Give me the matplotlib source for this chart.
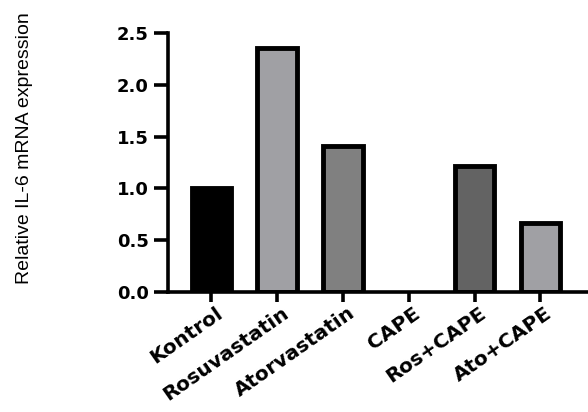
import numpy as np
import matplotlib.pyplot as plt
import matplotlib.transforms as mtransforms

# --- data ---
groups = ["Kontrol", "Rosuvastatin", "Atorvastatin", "CAPE", "Ros+CAPE", "Ato+CAPE"]
il6_expr = [1.0, 2.36, 1.41, 0.0, 1.22, 0.665]
bar_colors = ["#000000", "#a0a0a4", "#808080", "#808080", "#636363", "#a0a0a4"]
y_ticks = [0.0, 0.5, 1.0, 1.5, 2.0, 2.5]

fig = plt.figure(figsize=(5.88, 4.12), dpi=100)
ax = fig.add_axes([168 / 588, 1 - 292 / 412, 419 / 588, 259 / 412])

x = np.arange(len(groups))
# no outline on an empty bar (CAPE), otherwise it shows as a stroke on the axis
edge_w = [3.5 if v > 0 else 0 for v in il6_expr]
ax.bar(x, il6_expr, width=0.6, color=bar_colors, edgecolor="black", linewidth=edge_w, zorder=2)

ax.set_xlim(-0.66, 5.71)
ax.set_ylim(0, 2.5)

for side in ["top", "right"]:
    ax.spines[side].set_visible(False)
for side in ["left", "bottom"]:
    ax.spines[side].set_linewidth(2.6)
    ax.spines[side].set_zorder(3)

ax.set_yticks(y_ticks)
ax.set_yticklabels([f"{v:.1f}" for v in y_ticks], fontsize=13, fontweight="bold",
                   family="DejaVu Sans")
ax.tick_params(axis="y", length=10, width=2.6, pad=4)
ax.tick_params(axis="x", length=7, width=2.6, pad=3)

ax.set_xticks(x)
ax.set_xticklabels(groups, rotation=35, ha="right", va="center", rotation_mode="anchor",
                   fontsize=14.5, fontweight="bold", family="DejaVu Sans")
offset = mtransforms.ScaledTranslation(7 / 72, -4 / 72, fig.dpi_scale_trans)
for lbl in ax.get_xticklabels():
    lbl.set_transform(lbl.get_transform() + offset)

fig.text(25 / 588, 1 - 148 / 412, "Relative IL-6 mRNA expression", rotation=90,
         ha="center", va="center", fontsize=14, family="Liberation Sans")

fig.savefig("out.png", dpi=100)
